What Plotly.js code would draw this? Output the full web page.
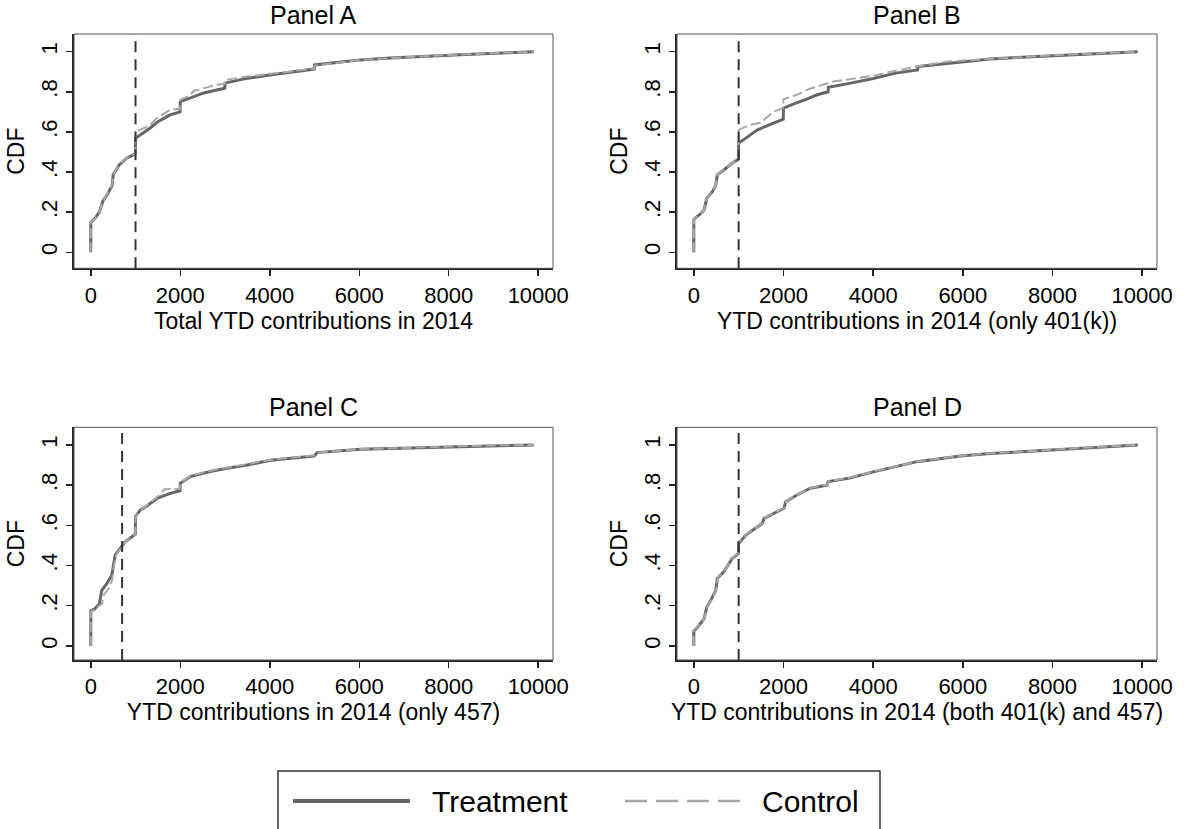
<!DOCTYPE html>
<html><head><meta charset="utf-8">
<script src="https://cdn.plot.ly/plotly-3.0.1.min.js"></script>
<style>html,body{margin:0;padding:0;background:#fff}#chart{width:1185px;height:829px}</style>
</head><body><div id="chart"></div>
<script>
// ---- data ----
const panelTitles = ['Panel A', 'Panel B', 'Panel C', 'Panel D'];
const xTitles = [
  'Total YTD contributions in 2014',
  'YTD contributions in 2014 (only 401(k))',
  'YTD contributions in 2014 (only 457)',
  'YTD contributions in 2014 (both 401(k) and 457)'
];
const cutoffs = [1000, 1000, 700, 1000];
const xTickVals = [0, 2000, 4000, 6000, 8000, 10000];
const xTickText = ['0', '2000', '4000', '6000', '8000', '10000'];
const yTickVals = [0, 0.2, 0.4, 0.6, 0.8, 1];
const yTickText = ['0', '.2', '.4', '.6', '.8', '1'];
const seriesNames = ['Treatment', 'Control'];

// Panel A
const aTreatX = [0,0,100,190,275,387,480,500,634,800,995,1000,1135,1320,1500,1770,1995,2000,2215,2510,2810,2995,3000,3400,4000,4500,4990,5000,5500,6018,6690,7200,7800,8500,9200,9900];
const aTreatY = [0,0.148,0.17,0.20,0.257,0.294,0.336,0.386,0.435,0.469,0.49,0.568,0.59,0.618,0.651,0.685,0.70,0.751,0.768,0.793,0.809,0.818,0.843,0.863,0.884,0.900,0.913,0.934,0.946,0.959,0.968,0.974,0.980,0.987,0.993,1.0];
const aCtrlX = [0,0,110,200,280,390,480,510,640,800,995,1000,1300,1500,1770,1995,2000,2200,2300,2510,2800,2995,3000,3500,4000,4500,4990,5000,5500,6000,6690,7200,7800,8500,9200,9900];
const aCtrlY = [0,0.15,0.17,0.205,0.26,0.30,0.34,0.39,0.44,0.47,0.49,0.60,0.63,0.673,0.71,0.715,0.76,0.78,0.804,0.818,0.834,0.84,0.859,0.876,0.889,0.903,0.915,0.93,0.945,0.958,0.968,0.975,0.981,0.988,0.994,1.0];

// Panel B
const bTreatX = [0,0,120,230,290,415,490,525,670,855,995,1000,1160,1420,1710,1995,2000,2230,2520,2750,2995,3000,3500,4000,4500,4990,5000,5500,5940,6610,7200,7800,8500,9200,9900];
const bTreatY = [0,0.165,0.186,0.211,0.269,0.302,0.336,0.386,0.41,0.444,0.464,0.544,0.569,0.61,0.638,0.663,0.718,0.74,0.763,0.785,0.80,0.823,0.843,0.866,0.893,0.909,0.926,0.937,0.946,0.963,0.971,0.978,0.985,0.992,1.0];
const bCtrlX = [0,0,120,230,290,415,490,525,670,855,995,1000,1250,1490,1780,1995,2000,2300,2560,2970,3110,3500,4000,4500,4980,5650,6200,6900,7500,8200,9000,9900];
const bCtrlY = [0,0.165,0.186,0.211,0.269,0.302,0.336,0.386,0.41,0.444,0.464,0.61,0.635,0.646,0.701,0.72,0.763,0.785,0.813,0.839,0.851,0.863,0.88,0.905,0.926,0.951,0.958,0.968,0.977,0.984,0.991,1.0];

// Panel C
const cTreatX = [0,0,96,193,246,358,470,506,544,656,768,995,1000,1104,1254,1478,1776,1995,2000,2224,2671,3045,3493,4016,4500,4990,5060,6030,6700,7500,8500,9300,9900];
const cTreatY = [0,0.174,0.186,0.21,0.277,0.31,0.352,0.41,0.452,0.485,0.518,0.556,0.643,0.676,0.696,0.734,0.759,0.772,0.809,0.843,0.868,0.884,0.90,0.924,0.935,0.945,0.962,0.979,0.983,0.988,0.993,0.997,1.0];
const cCtrlX = [0,0,250,280,415,480,520,560,660,780,995,1000,1100,1254,1478,1650,1995,2000,2224,2671,3045,3493,4016,4500,4990,5060,6030,6700,7500,8500,9000,9900];
const cCtrlY = [0,0.17,0.21,0.25,0.29,0.33,0.40,0.45,0.485,0.52,0.555,0.64,0.672,0.70,0.74,0.78,0.782,0.812,0.846,0.872,0.888,0.905,0.926,0.938,0.948,0.962,0.98,0.984,0.99,0.995,0.998,1.0];

// Panel D
const dTreatX = [0,0,120,230,290,380,490,525,670,855,995,1000,1160,1380,1530,1565,1825,2010,2050,2300,2600,2970,3000,3470,4000,4500,4979,5943,6610,7300,8000,8700,9300,9900];
const dTreatY = [0,0.075,0.103,0.136,0.194,0.228,0.277,0.336,0.369,0.435,0.46,0.51,0.552,0.585,0.61,0.635,0.663,0.685,0.718,0.751,0.785,0.80,0.818,0.835,0.866,0.893,0.917,0.945,0.958,0.966,0.976,0.985,0.993,1.0];
const dCtrlX = [0,0,130,240,300,390,500,535,680,860,995,1000,1170,1390,1540,1580,1840,2020,2060,2310,2620,2980,3010,3480,4000,4500,4990,5950,6620,7300,8000,8700,9300,9900];
const dCtrlY = [0,0.08,0.105,0.14,0.197,0.23,0.28,0.34,0.372,0.438,0.462,0.515,0.555,0.588,0.612,0.638,0.666,0.688,0.72,0.753,0.787,0.802,0.82,0.838,0.868,0.895,0.918,0.946,0.959,0.967,0.977,0.986,0.994,1.0];

const treatX = [aTreatX, bTreatX, cTreatX, dTreatX];
const treatY = [aTreatY, bTreatY, cTreatY, dTreatY];
const ctrlX = [aCtrlX, bCtrlX, cCtrlX, dCtrlX];
const ctrlY = [aCtrlY, bCtrlY, cCtrlY, dCtrlY];

// ---- layout geometry ----
const W = 1185, H = 829;
const FONT = 'Liberation Sans, Arial, Helvetica, sans-serif';
const colL = [74 / W, 553 / W], colR = [677 / W, 1157 / W];
const rowT = [1 - 268.3 / H, 1 - 34 / H], rowB = [1 - 660 / H, 1 - 427.3 / H];
const domX = [colL, colR, colL, colR];
const domY = [rowT, rowT, rowB, rowB];
const titleY = [15, 15, 407, 407];
const yRanges = [[-0.08, 1.088], [-0.08, 1.088], [-0.07, 1.088], [-0.07, 1.088]];

const data = [];
const layout = {
  width: W, height: H,
  margin: {l: 0, r: 0, t: 0, b: 0},
  paper_bgcolor: '#ffffff', plot_bgcolor: '#ffffff',
  showlegend: false,
  font: {family: FONT, color: '#000', size: 23},
  shapes: [], annotations: []
};

for (let i = 0; i < 4; i++) {
  const s = i === 0 ? '' : String(i + 1);
  const xa = 'x' + s, ya = 'y' + s;
  data.push({
    x: treatX[i], y: treatY[i], xaxis: xa, yaxis: ya, type: 'scatter', mode: 'lines',
    name: seriesNames[0], line: {color: '#666666', width: 3}, hoverinfo: 'x+y+name'
  });
  data.push({
    x: ctrlX[i], y: ctrlY[i], xaxis: xa, yaxis: ya, type: 'scatter', mode: 'lines',
    name: seriesNames[1], line: {color: '#a8a8a8', width: 2, dash: '10px,4px'}, hoverinfo: 'x+y+name'
  });
  layout['xaxis' + s] = {
    domain: domX[i], anchor: ya, range: [-375, 10330],
    tickmode: 'array', tickvals: xTickVals, ticktext: xTickText,
    ticks: 'outside', ticklen: 6, tickwidth: 1.5, tickcolor: '#222',
    showgrid: false, zeroline: false, showline: true, linecolor: '#222', linewidth: 2,
    tickfont: {family: FONT, size: 22, color: '#000'},
    title: {text: xTitles[i], font: {family: FONT, size: 23, color: '#000'}, standoff: 3},
    fixedrange: true
  };
  layout['yaxis' + s] = {
    domain: domY[i], anchor: xa, range: yRanges[i],
    tickmode: 'array', tickvals: yTickVals, ticktext: yTickText, tickangle: -90,
    ticks: 'outside', ticklen: 6, tickwidth: 1.5, tickcolor: '#222',
    showgrid: false, zeroline: false, showline: true, linecolor: '#222', linewidth: 2,
    tickfont: {family: FONT, size: 22, color: '#000'},
    title: {text: 'CDF', font: {family: FONT, size: 23, color: '#000'}, standoff: 6},
    fixedrange: true
  };
  // frame (top/right thin)
  layout.shapes.push({
    type: 'rect', xref: xa + ' domain', yref: ya + ' domain', x0: 0, x1: 1, y0: 0, y1: 1,
    line: {color: '#555', width: 1}, fillcolor: 'rgba(0,0,0,0)', layer: 'above'
  });
  // cutoff vertical dashed line
  layout.shapes.push({
    type: 'line', xref: xa, yref: ya + ' domain', x0: cutoffs[i], x1: cutoffs[i], y0: 0, y1: 1,
    line: {color: '#333', width: 2, dash: '11px,7px'}, layer: 'above'
  });
  layout.annotations.push({
    text: panelTitles[i], xref: 'paper', yref: 'paper',
    x: (domX[i][0] + domX[i][1]) / 2, y: 1 - titleY[i] / H,
    xanchor: 'center', yanchor: 'middle', showarrow: false,
    font: {family: FONT, size: 25, color: '#000'}
  });
}

// ---- legend (drawn box with keys) ----
layout.shapes.push({type: 'rect', xref: 'paper', yref: 'paper',
  x0: 278 / W, x1: 880 / W, y0: 1 - 830 / H, y1: 1 - 771 / H,
  line: {color: '#333', width: 1.5}, fillcolor: '#fff'});
layout.shapes.push({type: 'line', xref: 'paper', yref: 'paper',
  x0: 293 / W, x1: 410 / W, y0: 1 - 801 / H, y1: 1 - 801 / H,
  line: {color: '#666666', width: 4}});
layout.shapes.push({type: 'line', xref: 'paper', yref: 'paper',
  x0: 625 / W, x1: 740 / W, y0: 1 - 801 / H, y1: 1 - 801 / H,
  line: {color: '#a8a8a8', width: 2.5, dash: '22px,9px'}});
layout.annotations.push({text: seriesNames[0], xref: 'paper', yref: 'paper', x: 430 / W, y: 1 - 801 / H,
  xanchor: 'left', yanchor: 'middle', showarrow: false, font: {family: FONT, size: 30, color: '#000'}});
layout.annotations.push({text: seriesNames[1], xref: 'paper', yref: 'paper', x: 760 / W, y: 1 - 801 / H,
  xanchor: 'left', yanchor: 'middle', showarrow: false, font: {family: FONT, size: 30, color: '#000'}});

Plotly.newPlot('chart', data, layout, {displayModeBar: false, staticPlot: true});
</script>
</body></html>
